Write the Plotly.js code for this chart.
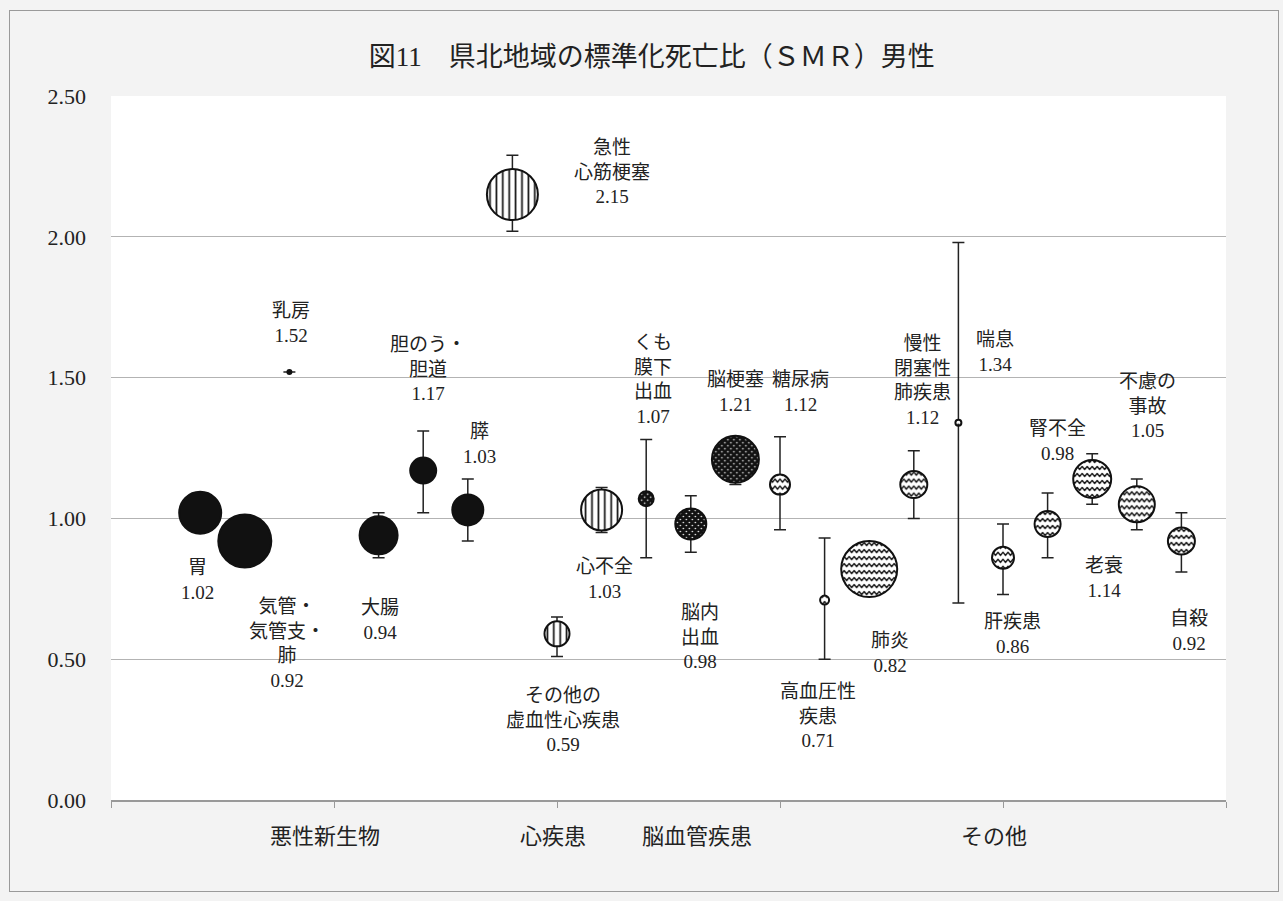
<!DOCTYPE html>
<html lang="ja">
<head>
<meta charset="utf-8">
<title>図11 県北地域の標準化死亡比（SMR）男性</title>
<script src="https://cdn.plot.ly/plotly-3.0.1.min.js"></script>
<style>
    html, body { margin: 0; padding: 0; background: #f3f3f3; }
    #wrap { position: relative; width: 1283px; height: 901px; }
    #chart { width: 1283px; height: 901px; }
    #frame {
        position: absolute; left: 9px; top: 10px; width: 1268px; height: 880px;
        border: 1px solid #9a9a9a; pointer-events: none;
    }
</style>
</head>
<body>
<!-- узоры заливки для пузырьков -->
<svg width="0" height="0" style="position:absolute">
    <defs>
        <pattern id="vstripe" patternUnits="userSpaceOnUse" width="6.4" height="10">
            <rect width="6.4" height="10" fill="#fff"/>
            <line x1="3.2" y1="-1" x2="3.2" y2="11" stroke="#111" stroke-width="1.7"/>
        </pattern>
        <pattern id="dots" patternUnits="userSpaceOnUse" width="6" height="6">
            <rect width="6" height="6" fill="#111"/>
            <circle cx="1.5" cy="1.5" r="0.8" fill="#fff"/>
            <circle cx="4.5" cy="4.5" r="0.8" fill="#fff"/>
        </pattern>
        <pattern id="wave" patternUnits="userSpaceOnUse" width="10" height="7">
            <rect width="10" height="7" fill="#fff"/>
            <path d="M-2.5,4.5 L0,1.5 L2.5,4.5 L5,1.5 L7.5,4.5 L10,1.5 L12.5,4.5"
                  fill="none" stroke="#111" stroke-width="1.4" stroke-linejoin="round"/>
        </pattern>
    </defs>
</svg>
<div id="wrap">
    <div id="chart"></div>
    <div id="frame"></div>
</div>
<script>
// Данные: SMR по причинам смерти, мужчины
const causes = ['胃', '気管・\n気管支・\n肺', '乳房', '大腸', '胆のう・\n胆道', '膵',
    '急性\n心筋梗塞', 'その他の\n虚血性心疾患', '心不全',
    'くも\n膜下\n出血', '脳内\n出血', '脳梗塞',
    '糖尿病', '高血圧性\n疾患', '肺炎', '慢性\n閉塞性\n肺疾患', '喘息', '肝疾患',
    '腎不全', '老衰', '不慮の\n事故', '自殺'];
const xPos = [0.4, 0.6, 0.8, 1.2, 1.4, 1.6, 1.8, 2.0, 2.2, 2.4, 2.6, 2.8,
    3.0, 3.2, 3.4, 3.6, 3.8, 4.0, 4.2, 4.4, 4.6, 4.8];
const smr = [1.02, 0.92, 1.52, 0.94, 1.17, 1.03, 2.15, 0.59, 1.03, 1.07, 0.98, 1.21,
    1.12, 0.71, 0.82, 1.12, 1.34, 0.86, 0.98, 1.14, 1.05, 0.92];
const ciLow = [0.98, 0.88, 1.52, 0.86, 1.02, 0.92, 2.02, 0.51, 0.95, 0.86, 0.88, 1.12,
    0.96, 0.50, 0.78, 1.00, 0.70, 0.73, 0.86, 1.05, 0.96, 0.81];
const ciHigh = [1.06, 0.96, 1.52, 1.02, 1.31, 1.14, 2.29, 0.65, 1.11, 1.28, 1.08, 1.28,
    1.29, 0.93, 0.86, 1.24, 1.98, 0.98, 1.09, 1.23, 1.14, 1.02];
// относительная площадь пузырька
const bubbleArea = [1764, 2809, 16, 1444, 676, 961, 2601, 625, 1681, 225, 961, 2209,
    400, 81, 3136, 729, 36, 484, 676, 1444, 1296, 729];
const group = [0, 0, 0, 0, 0, 0, 1, 1, 1, 2, 2, 2, 3, 3, 3, 3, 3, 3, 3, 3, 3, 3];

const groupNames = ['悪性新生物', '心疾患', '脳血管疾患', 'その他'];
const groupLabelX = [0.96, 1.98, 2.63, 3.96];
const groupFill = ['#111111', 'url(#vstripe)', 'url(#dots)', 'url(#wave)'];

// сдвиг подписей от точки, px (dx, dy вниз)
const labelShift = [[-3, 67], [42, 103], [2, -49], [1, 85], [5, -102], [12, -66],
    [100, -23], [6, 86], [3, 69], [7, -119], [9, 113], [0, -67],
    [20, -93], [-7, 116], [21, 84], [9, -104], [37, -71], [9, 76],
    [10, -83], [12, 99], [11, -98], [8, 90]];

const serif = 'Liberation Serif, Noto Sans CJK JP, serif';
const gothic = 'Noto Sans CJK JP, sans-serif';

const traces = groupNames.map((g, gi) => {
    const idx = group.map((v, i) => v === gi ? i : -1).filter(i => i >= 0);
    return {
        type: 'scatter',
        mode: 'markers',
        name: g,
        x: idx.map(i => xPos[i]),
        y: idx.map(i => smr[i]),
        error_y: {
            type: 'data',
            symmetric: false,
            array: idx.map(i => ciHigh[i] - smr[i]),
            arrayminus: idx.map(i => smr[i] - ciLow[i]),
            color: '#222',
            thickness: 1.5,
            width: 6
        },
        marker: {
            size: idx.map(i => bubbleArea[i]),
            sizemode: 'area',
            sizeref: 2,
            color: gi === 0 ? '#111' : '#fff',
            opacity: 1,
            line: { color: '#111', width: 2 }
        },
        hoverinfo: 'skip',
        showlegend: false
    };
});

const annotations = causes.map((c, i) => ({
    x: xPos[i],
    y: smr[i],
    xref: 'x',
    yref: 'y',
    text: c.split('\n').join('<br>') + '<br>' + smr[i].toFixed(2),
    showarrow: false,
    xanchor: 'center',
    yanchor: 'middle',
    align: 'center',
    xshift: labelShift[i][0],
    yshift: -labelShift[i][1],
    font: { family: serif, size: 19, color: '#222' }
}));

groupNames.forEach((g, gi) => {
    annotations.push({
        x: groupLabelX[gi],
        y: -0.048,
        xref: 'x',
        yref: 'paper',
        text: g,
        showarrow: false,
        xanchor: 'center',
        yanchor: 'middle',
        font: { family: gothic, size: 22, color: '#222' }
    });
});

const layout = {
    width: 1283,
    height: 901,
    margin: { l: 111, r: 57, t: 96, b: 101 },
    paper_bgcolor: '#f3f3f3',
    plot_bgcolor: '#ffffff',
    title: {
        text: '図11　県北地域の標準化死亡比（ＳＭＲ）男性',
        font: { family: serif, size: 27, color: '#222' },
        xref: 'container',
        x: 0.508,
        xanchor: 'center',
        yref: 'container',
        y: 0.937,
        yanchor: 'middle'
    },
    xaxis: {
        range: [0, 5],
        tickvals: [0, 1, 2, 3, 4, 5],
        showticklabels: false,
        ticks: 'outside',
        ticklen: 6,
        tickcolor: '#999',
        showline: true,
        linecolor: '#999',
        linewidth: 1.5,
        showgrid: false,
        zeroline: false,
        fixedrange: true
    },
    yaxis: {
        range: [0, 2.5],
        dtick: 0.5,
        tickformat: '.2f',
        ticks: '',
        ticklabelstandoff: 24,
        tickfont: { family: serif, size: 22, color: '#222' },
        showgrid: true,
        gridcolor: '#b3b3b3',
        gridwidth: 1,
        showline: false,
        zeroline: false,
        fixedrange: true
    },
    annotations: annotations
};

Plotly.newPlot('chart', traces, layout, { displayModeBar: false, staticPlot: true }).then(gd => {
    // заливка узором по группам
    gd.querySelectorAll('.scatterlayer .trace').forEach((tr, gi) => {
        tr.querySelectorAll('path.point').forEach(p => {
            p.style.fill = groupFill[gi];
        });
    });
});
</script>
</body>
</html>
